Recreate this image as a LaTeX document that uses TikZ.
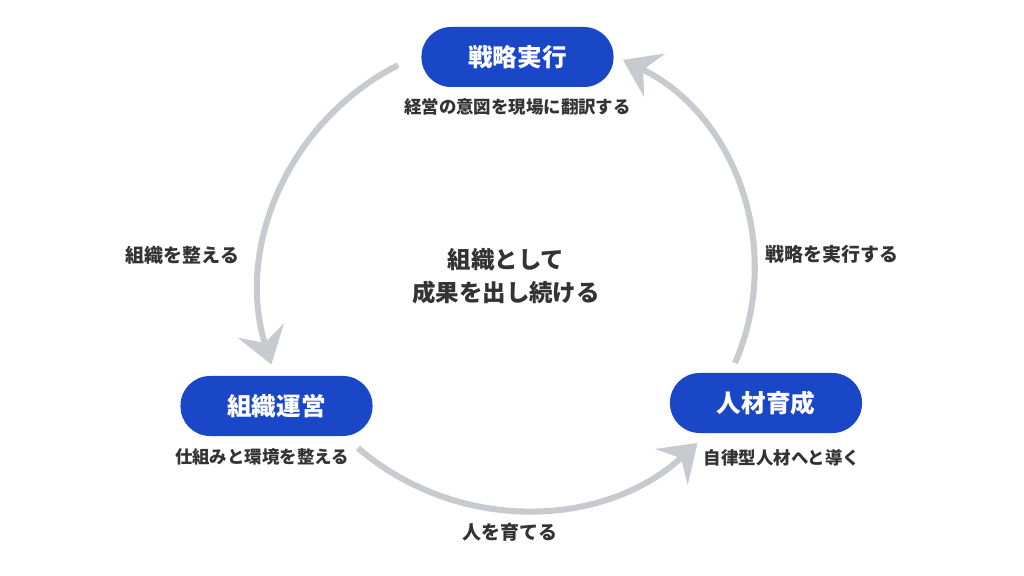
\documentclass[tikz,border=0pt]{standalone}
\usepackage{fontspec}
\setmainfont{Noto Sans CJK JP}
\usetikzlibrary{arrows.meta}
\definecolor{nodeblue}{RGB}{26,71,200}
\definecolor{arcgray}{RGB}{199,202,207}
\definecolor{txt}{RGB}{51,51,51}
\begin{document}
\begin{tikzpicture}[x=0.025cm,y=0.025cm,
  stage/.style={fill=nodeblue, text=white, font=\fontsize{17.5}{20}\selectfont\bfseries,
    minimum width=4.8cm, minimum height=1.5cm, rounded corners=0.74cm, inner sep=0pt},
  sublabel/.style={text=txt, font=\fontsize{12.4}{15}\selectfont\bfseries, inner sep=0pt},
  sidelabel/.style={text=txt, font=\fontsize{13.5}{16}\selectfont\bfseries, inner sep=0pt},
  corelabel/.style={text=txt, font=\fontsize{16.7}{23.5}\selectfont\bfseries, align=center, inner sep=0pt},
  flow/.style={draw=arcgray, line width=4.3pt, -{Stealth[length=25pt,width=34pt,inset=9pt]}}
]
\useasboundingbox[fill=white] (0,0) rectangle (1024,576);

% nodes
\node[stage] (top) at (517.5,519) {戦略実行};
\node[sublabel] (topsub) at (517.5,469) {経営の意図を現場に翻訳する};
\node[stage] (left) at (276.5,170) {組織運営};
\node[sublabel] (leftsub) at (262,119) {仕組みと環境を整える};
\node[stage] (right) at (766,173) {人材育成};
\node[sublabel] (rightsub) at (782,118) {自律型人材へと導く};

\node[sidelabel] (lside) at (182.5,321) {組織を整える};
\node[sidelabel] (rside) at (832,322) {戦略を実行する};
\node[sidelabel] (bside) at (510,44) {人を育てる};
\node[corelabel] (core) at (506,299.5) {組織として\\成果を出し続ける};

% connectors
\coordinate (lA) at (398,510.8);
\coordinate (rA) at (735,213);
\coordinate (bA) at (358,128);
\draw[flow] (lA) arc[start angle=116.9, end angle=197.2, radius=252];
\draw[flow] (rA) arc[start angle=-23.5, end angle=64.1, radius=233.5];
\draw[flow] (bA) arc[start angle=-130.7, end angle=-47.6, radius=256];
\end{tikzpicture}
\end{document}
